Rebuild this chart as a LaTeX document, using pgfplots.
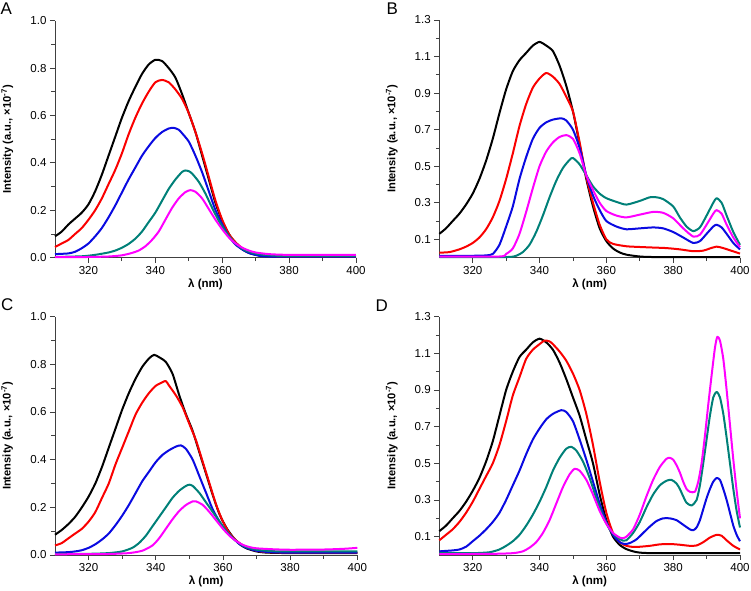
\documentclass[border=0pt]{standalone}
\usepackage{fontspec}
\setmainfont{Liberation Sans}
\usepackage{pgfplots}
\pgfplotsset{compat=1.18}
\definecolor{cred}{RGB}{250,0,0}
\definecolor{cblue}{RGB}{10,10,225}
\definecolor{cteal}{RGB}{0,128,120}
\definecolor{cmag}{RGB}{255,0,255}
\pgfplotsset{
 spec/.style={
  scale only axis, anchor=south west,
  xmin=310, xmax=400,
  axis x line*=bottom, axis y line*=left,
  axis line style={black!75, line width=0.8bp, -},
  tick align=outside,
  major tick length=5bp, minor tick length=3.5bp,
  every tick/.style={black!75, line width=0.8bp},
  xtick={320,340,360,380,400}, minor xtick={330,350,370,390},
  /pgf/number format/assume math mode=true,
  ticklabel style={font=\fontsize{11.6}{13}\selectfont},
  yticklabel style={/pgf/number format/.cd, fixed, fixed zerofill, precision=1},
  every axis x label/.style={at={(axis description cs:0.5,-0.111)}, anchor=center, font=\bfseries\fontsize{11.6}{13}\selectfont},
  every axis y label/.style={at={(axis description cs:-0.158,0.5)}, rotate=90, anchor=center, font=\bfseries\fontsize{11.2}{13}\selectfont},
  xlabel={λ (nm)},
  ylabel={Intensity (a.u., ×10\textsuperscript{-7})},
  every axis plot/.append style={line width=2bp, line join=round, smooth, tension=0.4},
  clip=false,
 },
 specA/.style={spec, ymin=0, ymax=1.0, ytick={0,0.2,0.4,0.6,0.8,1.0}, minor ytick={0.1,0.3,0.5,0.7,0.9}},
 specB/.style={spec, ymin=0, ymax=1.3, ytick={0.1,0.3,0.5,0.7,0.9,1.1,1.3}, minor ytick={0.2,0.4,0.6,0.8,1.0,1.2}},
}
\begin{document}
\begin{tikzpicture}
\useasboundingbox (0,0) rectangle (751bp,591bp);
% ---------------- A ----------------
\begin{axis}[specA, at={(55bp,333.3bp)}, width=301bp, height=237bp]
\addplot[black] coordinates {(310,0.09)(312,0.11)(314,0.14)(316,0.165)(318,0.19)(320,0.225)(322,0.28)(324,0.35)(326,0.43)(328,0.51)(330,0.59)(332,0.66)(334,0.72)(336,0.775)(338,0.815)(340,0.835)(342,0.83)(344,0.8)(346,0.76)(348,0.69)(350,0.61)(352,0.53)(354,0.43)(356,0.33)(358,0.23)(360,0.155)(362,0.1)(364,0.06)(366,0.035)(368,0.02)(370,0.012)(373,0.007)(380,0.005)(400,0.005)};
\addplot[cred] coordinates {(310,0.045)(312,0.06)(314,0.075)(316,0.1)(318,0.125)(320,0.16)(322,0.2)(324,0.25)(326,0.31)(328,0.37)(330,0.44)(332,0.52)(334,0.59)(336,0.65)(338,0.7)(340,0.74)(342,0.75)(344,0.74)(346,0.71)(348,0.67)(350,0.61)(352,0.53)(354,0.44)(356,0.34)(358,0.24)(360,0.16)(362,0.1)(364,0.065)(366,0.04)(368,0.025)(370,0.015)(373,0.008)(380,0.005)(400,0.005)};
\addplot[cblue] coordinates {(310,0.015)(314,0.018)(316,0.025)(318,0.04)(320,0.06)(322,0.09)(324,0.125)(326,0.17)(328,0.22)(330,0.275)(332,0.33)(334,0.38)(336,0.43)(338,0.47)(340,0.505)(342,0.53)(344,0.545)(345.5,0.548)(347,0.54)(348,0.525)(350,0.49)(352,0.43)(354,0.36)(356,0.28)(358,0.2)(360,0.14)(362,0.09)(364,0.055)(366,0.035)(368,0.02)(370,0.012)(374,0.005)(400,0.004)};
\addplot[cteal] coordinates {(310,0.003)(318,0.006)(322,0.012)(326,0.022)(328,0.03)(330,0.042)(332,0.058)(334,0.08)(336,0.11)(338,0.15)(340,0.19)(342,0.24)(344,0.29)(346,0.33)(348,0.362)(349,0.368)(350,0.365)(351,0.355)(353,0.32)(355,0.27)(357,0.21)(359,0.155)(361,0.11)(363,0.075)(365,0.048)(367,0.03)(370,0.017)(374,0.01)(380,0.007)(400,0.007)};
\addplot[cmag] coordinates {(310,0.002)(320,0.003)(326,0.005)(330,0.01)(333,0.02)(335,0.03)(337,0.048)(339,0.075)(341,0.11)(343,0.16)(345,0.21)(347,0.25)(349,0.277)(350.5,0.285)(352,0.278)(354,0.25)(356,0.205)(358,0.16)(360,0.12)(362,0.085)(364,0.06)(366,0.042)(368,0.03)(370,0.022)(374,0.015)(380,0.012)(400,0.012)};
\end{axis}
% ---------------- B ----------------
\begin{axis}[specB, at={(439.3bp,333.4bp)}, width=300.7bp, height=237.6bp]
\addplot[black] coordinates {(310,0.13)(312,0.16)(314,0.2)(316,0.24)(318,0.29)(320,0.35)(322,0.43)(324,0.53)(326,0.65)(328,0.79)(330,0.92)(332,1.02)(334,1.08)(336,1.12)(338,1.16)(340,1.18)(342,1.16)(344,1.13)(346,1.05)(348,0.94)(350,0.8)(352,0.62)(354,0.43)(356,0.28)(358,0.16)(360,0.09)(362,0.05)(364,0.028)(366,0.016)(370,0.006)(375,0.003)(400,0.003)};
\addplot[cred] coordinates {(310,0.027)(313,0.03)(316,0.045)(318,0.06)(320,0.08)(322,0.11)(324,0.155)(326,0.22)(328,0.31)(330,0.43)(332,0.57)(334,0.72)(336,0.84)(338,0.93)(340,0.98)(342,1.01)(344,0.99)(346,0.95)(348,0.88)(350,0.8)(352,0.63)(354,0.44)(356,0.3)(358,0.18)(360,0.1)(362,0.075)(366,0.062)(370,0.058)(374,0.055)(378,0.052)(382,0.045)(386,0.035)(389,0.038)(391,0.05)(393,0.06)(395,0.052)(397,0.04)(400,0.022)};
\addplot[cblue] coordinates {(310,0.01)(320,0.01)(324,0.012)(326,0.02)(328,0.07)(330,0.17)(332,0.28)(334,0.43)(336,0.55)(338,0.65)(340,0.71)(342,0.74)(344,0.755)(346.5,0.762)(348,0.75)(350,0.7)(352,0.6)(354,0.45)(356,0.34)(358,0.26)(360,0.2)(363,0.17)(366,0.155)(370,0.16)(374,0.165)(377,0.16)(380,0.14)(383,0.11)(386,0.08)(388,0.09)(390,0.13)(392,0.17)(393,0.18)(394.5,0.165)(396,0.13)(398,0.08)(400,0.045)};
\addplot[cteal] coordinates {(310,0.002)(330,0.003)(333,0.01)(335,0.03)(337,0.07)(339,0.14)(341,0.23)(343,0.33)(345,0.42)(347,0.49)(349,0.535)(350,0.545)(352,0.51)(354,0.45)(356,0.39)(358,0.35)(360,0.325)(363,0.305)(366,0.29)(370,0.31)(373,0.33)(375,0.33)(377,0.32)(380,0.28)(382,0.22)(384,0.17)(386,0.145)(388,0.165)(390,0.23)(392,0.3)(393,0.325)(394.5,0.3)(396,0.23)(398,0.14)(400,0.07)};
\addplot[cmag] coordinates {(310,0.005)(328,0.006)(330,0.02)(332,0.05)(334,0.13)(336,0.25)(338,0.38)(340,0.5)(342,0.58)(344,0.63)(346,0.66)(348,0.67)(350,0.65)(352,0.57)(354,0.45)(356,0.37)(358,0.3)(360,0.255)(363,0.23)(366,0.22)(370,0.235)(374,0.25)(377,0.245)(380,0.215)(383,0.16)(386,0.115)(388,0.125)(390,0.18)(392,0.24)(393,0.26)(394.5,0.24)(396,0.18)(398,0.11)(400,0.057)};
\end{axis}
% ---------------- C ----------------
\begin{axis}[specA, at={(55bp,36bp)}, width=302.3bp, height=238.3bp]
\addplot[black] coordinates {(310,0.085)(312,0.105)(314,0.13)(316,0.16)(318,0.2)(320,0.245)(322,0.3)(324,0.37)(326,0.45)(328,0.53)(330,0.61)(332,0.68)(334,0.74)(336,0.79)(338,0.825)(339.5,0.84)(341,0.83)(343,0.81)(345,0.76)(347,0.67)(349,0.59)(351,0.52)(353,0.43)(355,0.34)(357,0.25)(359,0.17)(361,0.115)(363,0.075)(365,0.045)(367,0.028)(370,0.015)(373,0.01)(380,0.008)(400,0.008)};
\addplot[cred] coordinates {(310,0.04)(312,0.05)(314,0.07)(316,0.09)(318,0.11)(320,0.14)(322,0.18)(324,0.24)(326,0.3)(328,0.38)(330,0.45)(332,0.52)(334,0.59)(336,0.64)(338,0.68)(340,0.71)(342,0.725)(343,0.73)(344,0.71)(346,0.67)(348,0.62)(350,0.55)(352,0.48)(354,0.39)(356,0.3)(358,0.21)(360,0.14)(362,0.09)(364,0.06)(366,0.04)(368,0.027)(370,0.018)(373,0.012)(380,0.01)(400,0.01)};
\addplot[cblue] coordinates {(310,0.01)(314,0.012)(316,0.015)(318,0.02)(320,0.03)(322,0.045)(324,0.065)(326,0.09)(328,0.125)(330,0.165)(332,0.21)(334,0.26)(336,0.31)(338,0.35)(340,0.39)(342,0.42)(344,0.44)(346,0.455)(347.5,0.46)(349,0.445)(351,0.4)(353,0.33)(355,0.26)(357,0.19)(359,0.14)(361,0.1)(363,0.07)(365,0.045)(367,0.03)(370,0.018)(374,0.012)(380,0.01)(400,0.01)};
\addplot[cteal] coordinates {(310,0.005)(320,0.005)(326,0.008)(330,0.015)(333,0.03)(335,0.05)(337,0.08)(339,0.12)(341,0.16)(343,0.2)(345,0.24)(347,0.27)(349,0.29)(350,0.295)(351,0.29)(353,0.26)(355,0.22)(357,0.18)(359,0.14)(361,0.1)(363,0.07)(365,0.048)(367,0.033)(370,0.022)(375,0.016)(380,0.015)(400,0.015)};
\addplot[cmag] coordinates {(310,0.003)(325,0.004)(332,0.008)(336,0.018)(339,0.04)(341,0.07)(343,0.11)(345,0.15)(347,0.185)(349,0.21)(351,0.225)(352,0.225)(354,0.21)(356,0.18)(358,0.145)(360,0.11)(362,0.08)(364,0.058)(366,0.042)(368,0.033)(370,0.028)(375,0.024)(380,0.022)(390,0.023)(396,0.026)(400,0.03)};
\end{axis}
% ---------------- D ----------------
\begin{axis}[specB, at={(439.3bp,36bp)}, width=300.7bp, height=238.3bp]
\addplot[black] coordinates {(310,0.13)(312,0.16)(314,0.2)(316,0.24)(318,0.29)(320,0.35)(322,0.42)(324,0.51)(326,0.62)(328,0.76)(330,0.9)(332,1.0)(334,1.08)(336,1.12)(338,1.16)(340,1.18)(342,1.16)(344,1.12)(346,1.05)(348,0.96)(350,0.86)(352,0.76)(354,0.63)(356,0.5)(358,0.33)(360,0.19)(362,0.1)(364,0.055)(366,0.032)(368,0.02)(370,0.013)(375,0.01)(400,0.01)};
\addplot[cred] coordinates {(310,0.08)(312,0.11)(314,0.14)(316,0.18)(318,0.23)(320,0.29)(322,0.36)(324,0.43)(326,0.5)(328,0.6)(330,0.73)(332,0.87)(334,0.97)(336,1.07)(338,1.12)(340,1.15)(341.5,1.17)(343,1.165)(344,1.15)(346,1.11)(348,1.06)(350,0.99)(352,0.9)(354,0.77)(356,0.6)(358,0.4)(360,0.23)(362,0.12)(364,0.07)(366,0.05)(368,0.044)(370,0.045)(373,0.05)(376,0.058)(379,0.06)(382,0.056)(385,0.05)(387,0.052)(389,0.07)(391,0.095)(393,0.11)(394.5,0.105)(396,0.08)(398,0.05)(400,0.03)};
\addplot[cblue] coordinates {(310,0.02)(314,0.025)(316,0.03)(318,0.045)(320,0.075)(322,0.105)(324,0.14)(326,0.18)(328,0.23)(330,0.3)(332,0.38)(334,0.46)(336,0.55)(338,0.63)(340,0.69)(342,0.74)(344,0.77)(346.5,0.79)(348,0.78)(350,0.73)(352,0.63)(354,0.52)(356,0.4)(358,0.28)(360,0.18)(362,0.11)(364,0.07)(365.5,0.06)(367,0.065)(369,0.085)(371,0.12)(373,0.155)(375,0.185)(377,0.2)(379,0.2)(381,0.19)(383,0.165)(385,0.14)(386,0.135)(387,0.15)(388,0.19)(389,0.25)(390,0.31)(391,0.36)(392,0.4)(393,0.42)(394,0.41)(395,0.36)(396,0.3)(397,0.23)(398,0.16)(399,0.11)(400,0.075)};
\addplot[cteal] coordinates {(310,0.01)(320,0.01)(325,0.015)(328,0.03)(330,0.05)(332,0.075)(334,0.11)(336,0.16)(338,0.22)(340,0.29)(342,0.37)(344,0.46)(346,0.53)(348,0.58)(349.5,0.59)(351,0.57)(353,0.51)(355,0.42)(357,0.31)(359,0.21)(361,0.14)(363,0.1)(365,0.078)(366,0.08)(368,0.12)(370,0.18)(372,0.26)(374,0.33)(376,0.38)(378,0.405)(379.5,0.41)(381,0.39)(382,0.36)(383,0.32)(384,0.285)(385.5,0.27)(387,0.3)(388,0.38)(389,0.5)(390,0.63)(391,0.76)(392,0.86)(393,0.89)(394,0.86)(395,0.77)(396,0.64)(397,0.5)(398,0.36)(399,0.24)(400,0.15)};
\addplot[cmag] coordinates {(310,0.005)(325,0.006)(332,0.01)(335,0.02)(337,0.04)(339,0.07)(341,0.12)(343,0.19)(345,0.28)(347,0.37)(349,0.44)(350.5,0.47)(352,0.46)(354,0.41)(356,0.33)(358,0.24)(360,0.17)(362,0.12)(364,0.095)(365,0.092)(366,0.1)(368,0.14)(370,0.22)(372,0.32)(374,0.41)(376,0.48)(378,0.525)(379,0.53)(380,0.52)(381,0.49)(382,0.45)(383,0.4)(384,0.36)(385,0.345)(386.5,0.345)(387.5,0.4)(388.5,0.5)(389.5,0.65)(390.5,0.82)(391.5,0.98)(392.5,1.13)(393.2,1.19)(394,1.17)(395,1.07)(396,0.9)(397,0.71)(398,0.52)(399,0.35)(400,0.2)};
\end{axis}
% panel letters
\node[anchor=base west, inner sep=0, font=\fontsize{17}{17}\selectfont] at (0.5bp,576bp) {A};
\node[anchor=base west, inner sep=0, font=\fontsize{17}{17}\selectfont] at (386.5bp,576bp) {B};
\node[anchor=base west, inner sep=0, font=\fontsize{17}{17}\selectfont] at (1bp,280.3bp) {C};
\node[anchor=base west, inner sep=0, font=\fontsize{17}{17}\selectfont] at (375.5bp,279.3bp) {D};
\end{tikzpicture}
\end{document}
